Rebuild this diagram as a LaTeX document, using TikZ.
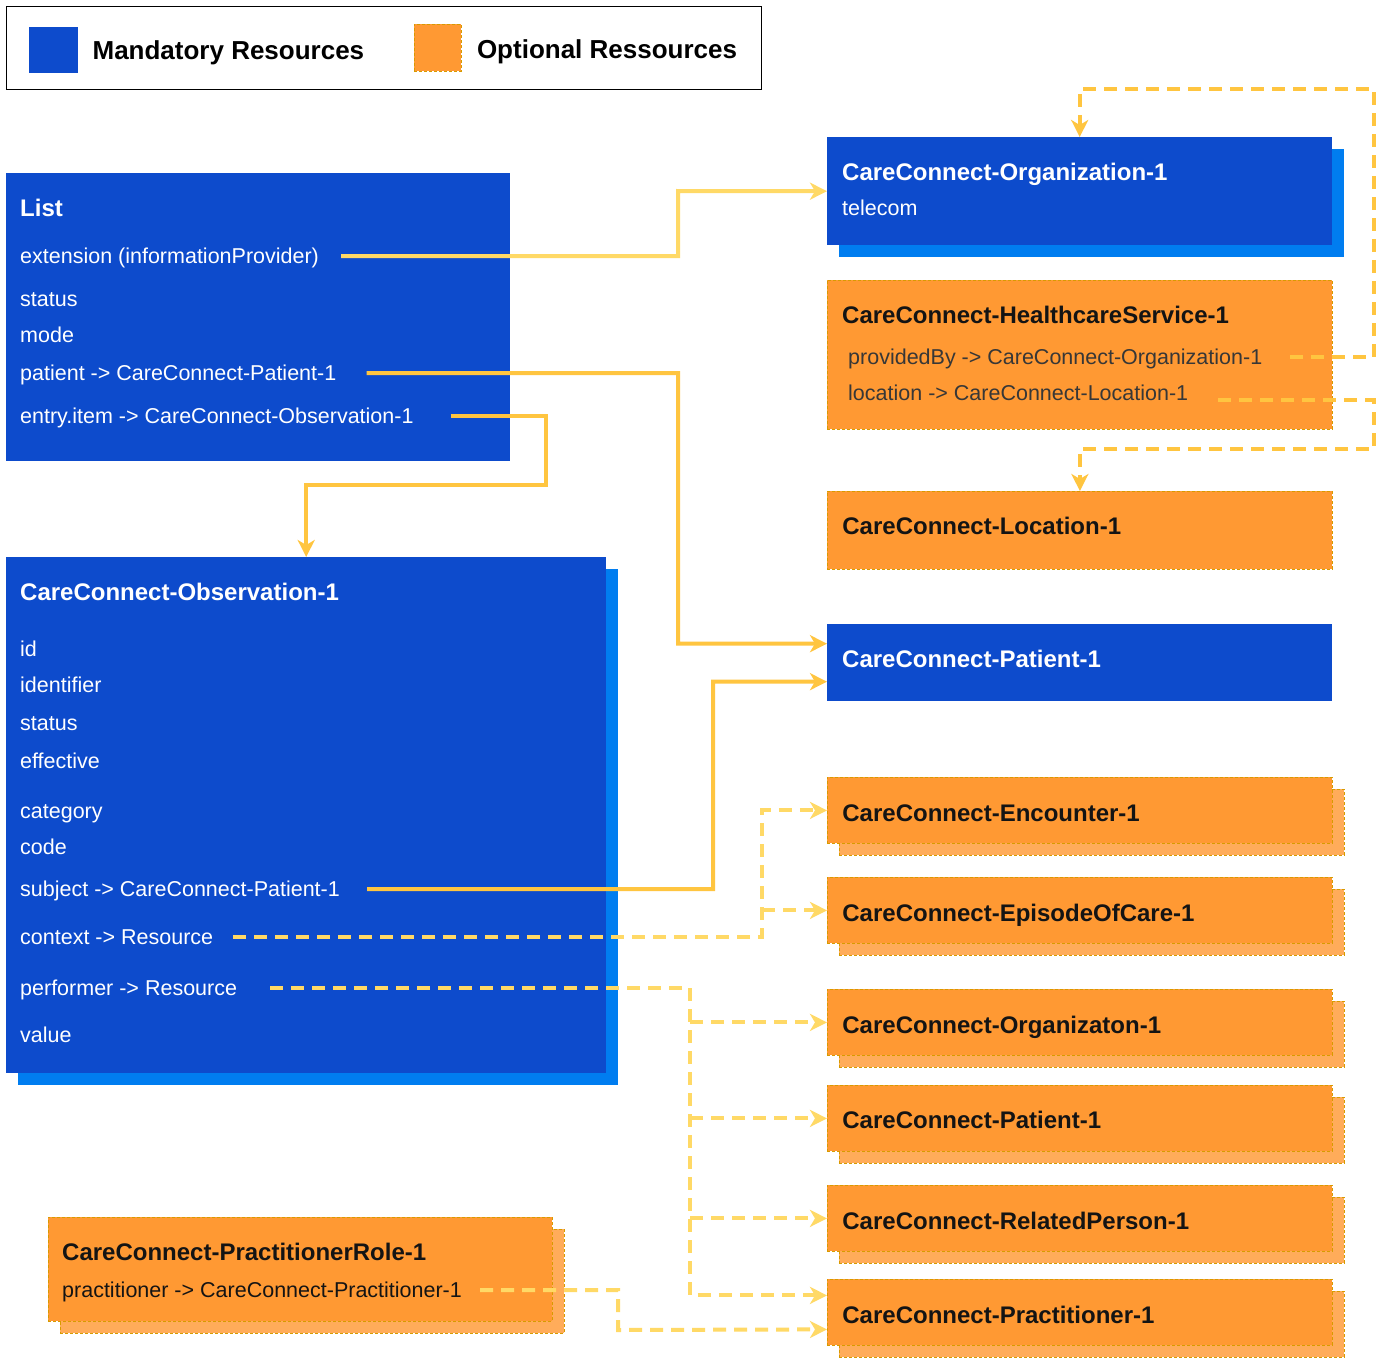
\documentclass[tikz,border=0pt]{standalone}
\usepackage{fontspec}
\setmainfont{Liberation Sans}
\usetikzlibrary{arrows.meta, positioning, calc, shadows}
\definecolor{mandblue}{RGB}{13,75,204}
\definecolor{mandshade}{RGB}{0,125,240}
\definecolor{optorange}{RGB}{255,153,51}
\definecolor{optshade}{RGB}{255,172,90}
\definecolor{optedge}{RGB}{215,155,0}
\definecolor{opttext}{RGB}{20,20,20}
\definecolor{linkpale}{RGB}{255,217,102}
\definecolor{linkgold}{RGB}{255,197,64}
\newcommand{\titlefont}{\fontsize{24}{28}\selectfont\bfseries}
\newcommand{\itemfont}{\fontsize{21.5}{25}\selectfont}
\newcommand{\keyfont}{\fontsize{26}{30}\selectfont\bfseries}
\tikzset{
  box/.style={rectangle, anchor=north west, inner sep=0pt, minimum width=505pt, text height=17pt, text depth=0pt, text width=475pt, align=left, font=\titlefont},
  mand/.style={box, fill=mandblue, text=white},
  opt/.style={box, fill=optorange, draw=optedge, dash pattern=on 3pt off 2pt, line width=0.8pt, text=opttext},
  mandshadow/.style={copy shadow={shadow xshift=12pt, shadow yshift=-12pt, fill=mandshade, draw=none}},
  optshadow/.style={copy shadow={shadow xshift=12pt, shadow yshift=-12pt, fill=optshade, draw=optedge}},
  title/.style={anchor=west, inner sep=0pt, text height=17pt, text depth=0pt, font=\titlefont},
  item/.style={anchor=west, inner sep=0pt, text height=15pt, text depth=0pt, font=\itemfont},
  link/.style={line width=4pt, linkgold, -{Stealth[length=17pt, width=17pt, inset=5pt]}},
  dlink/.style={link, dash pattern=on 13pt off 8pt}
}

\begin{document}
\begin{tikzpicture}[x=1pt, y=-1pt]
  \path[use as bounding box, fill=white] (0,0) rectangle (1393,1365);

  % Legend
  \node[draw, line width=1.2pt, anchor=north west, inner sep=0pt, minimum width=755pt, minimum height=83pt] (legend) at (6,6) {};
  \node[fill=mandblue, anchor=north west, inner sep=0pt, minimum width=49pt, minimum height=46pt] (keymand) at (29,27) {};
  \node[right=14pt of keymand, yshift=-2.5pt, inner sep=0pt, font=\keyfont] (keymandtxt) {Mandatory Resources};
  \node[fill=optorange, draw=optedge, dash pattern=on 3pt off 2pt, line width=0.8pt, anchor=north west, inner sep=0pt, minimum width=47pt, minimum height=47pt] (keyopt) at (414,24) {};
  \node[right=15pt of keyopt, yshift=-3.5pt, inner sep=0pt, font=\keyfont] (keyopttxt) {Optional Ressources};

  % List (left top)
  \node[mand, minimum width=504pt, minimum height=288pt] (list) at (6,173) {};
  \node[title, white] (listtitle) at (20,208) {List};
  \node[item, white] (ext) at (20,256) {extension (informationProvider)};
  \node[item, white] (liststatus) at (20,299) {status};
  \node[item, white] (listmode) at (20,335) {mode};
  \node[item, white] (patref) at (20,373) {patient -> CareConnect-Patient-1};
  \node[item, white] (entry) at (20,416) {entry.item -> CareConnect-Observation-1};

  % Observation (left)
  \node[mand, mandshadow, minimum width=600pt, minimum height=516pt] (obs) at (6,557) {};
  \node[title, white] (obstitle) at (20,592) {CareConnect-Observation-1};
  \node[item, white] (obsid) at (20,649) {id};
  \node[item, white] (obsident) at (20,685) {identifier};
  \node[item, white] (obsstatus) at (20,723) {status};
  \node[item, white] (obseff) at (20,761) {effective};
  \node[item, white] (obscat) at (20,811) {category};
  \node[item, white] (obscode) at (20,847) {code};
  \node[item, white] (subj) at (20,889) {subject -> CareConnect-Patient-1};
  \node[item, white] (ctx) at (20,937) {context -> Resource};
  \node[item, white] (perf) at (20,988) {performer -> Resource};
  \node[item, white] (obsvalue) at (20,1035) {value};

  % PractitionerRole (left bottom)
  \node[opt, optshadow, minimum width=504pt, minimum height=104pt] (prole) at (48,1217) {};
  \node[title, opttext] (proletitle) at (62,1252) {CareConnect-PractitionerRole-1};
  \node[item, opttext] (pracref) at (62,1290) {practitioner -> CareConnect-Practitioner-1};

  % Right column
  \node[mand, mandshadow, minimum height=108pt] (org) at (827,137) {};
  \node[title, white] (orgtitle) at (842,172) {CareConnect-Organization-1};
  \node[item, white] (orgtel) at (842,208) {telecom};

  \node[opt, minimum height=149pt] (hs) at (827,280) {};
  \node[title, opttext] (hstitle) at (842,315) {CareConnect-HealthcareService-1};
  \node[item, opttext!85] (prov) at (848,357) {providedBy -> CareConnect-Organization-1};
  \node[item, opttext!85] (locref) at (848,393) {location -> CareConnect-Location-1};

  \node[opt, minimum height=78pt, text depth=8pt] (loc) at (827,491) {CareConnect-Location-1};
  \node[mand, minimum height=77pt, text depth=7pt] (pat) at (827,624) {CareConnect-Patient-1};

  \node[opt, optshadow, minimum height=66pt, text height=22pt] (enc) at (827,777) {CareConnect-Encounter-1};
  \node[opt, optshadow, minimum height=66pt, text height=22pt] (eoc) at (827,877) {CareConnect-EpisodeOfCare-1};
  \node[opt, optshadow, minimum height=66pt, text height=22pt] (orgo) at (827,989) {CareConnect-Organizaton-1};
  \node[opt, optshadow, minimum height=66pt, text height=21pt] (patopt) at (827,1085) {CareConnect-Patient-1};
  \node[opt, optshadow, minimum height=66pt, text height=22pt] (rel) at (827,1185) {CareConnect-RelatedPerson-1};
  \node[opt, optshadow, minimum height=66pt, text height=23pt] (prac) at (827,1279) {CareConnect-Practitioner-1};

  % Mandatory links
  \draw[link, linkpale] ([xshift=22pt]ext.east) -| (678,191) -- (org.west);
  \draw[link] ([xshift=30pt]patref.east) -| (678,643.5) -- ([yshift=19pt]pat.west);
  \draw[link] ([xshift=37pt]entry.east) -| (546,485) -| (obs.north);
  \draw[link] ([xshift=27pt]subj.east) -| (713,681.5) -- ([yshift=-19pt]pat.west);

  % Optional links
  \coordinate (ctxbus) at (762,0);
  \coordinate (perfbus) at (690,0);
  \draw[dlink, linkpale] ([xshift=20pt]ctx.east) -| (ctxbus |- enc.west) -- (enc.west);
  \draw[dlink, linkpale] (ctxbus |- eoc.west) -- (eoc.west);
  \draw[dlink, linkpale] ([xshift=33pt]perf.east) -| ($(perfbus |- prac.west)+(0,-17)$) -- ([yshift=17pt]prac.west);
  \foreach \target in {orgo, patopt, rel}
    \draw[dlink, linkpale] (perfbus |- \target.west) -- (\target.west);
  \draw[dlink] ([xshift=28pt]prov.east) -| (1374,89) -| (org.north);
  \draw[dlink] ([xshift=30pt, yshift=-7pt]locref.east) -| (1374,449) -| (loc.north);
  \draw[dlink, linkpale] ([xshift=18pt]pracref.east) -| (618,1330) -- ([yshift=-17pt]prac.west);
\end{tikzpicture}
\end{document}
